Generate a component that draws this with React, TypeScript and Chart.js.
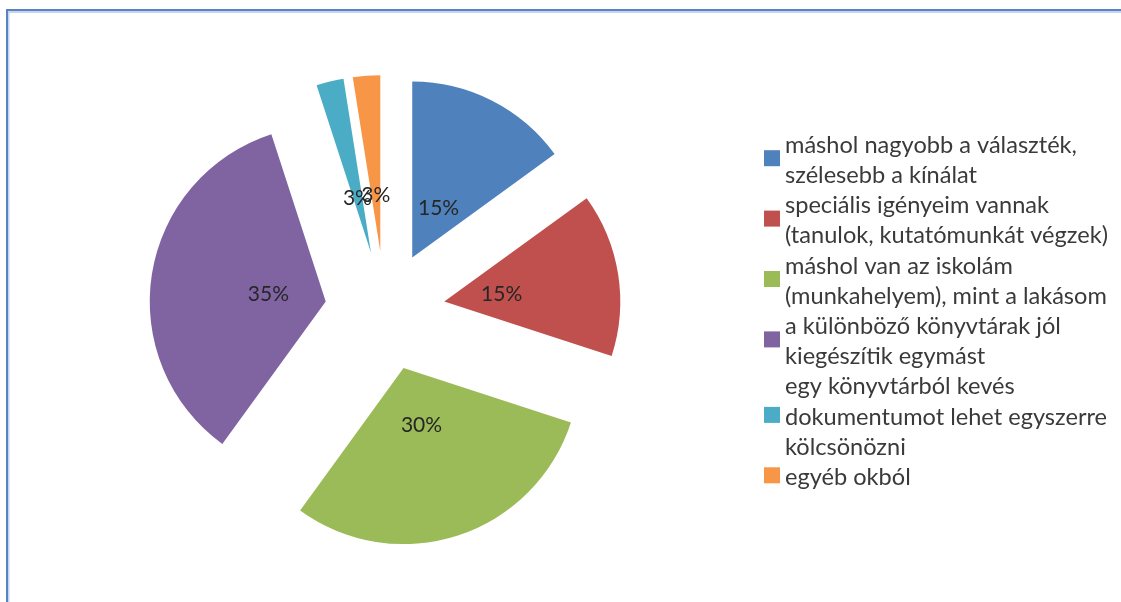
import React, { useEffect, useRef } from "react";
import { Chart, registerables, ArcElement } from "chart.js";

Chart.register(...registerables);

// ---- data ----
const categories: string[][] = [
  ["máshol nagyobb a választék,", "szélesebb a kínálat"],
  ["speciális igényeim vannak", "(tanulok, kutatómunkát végzek)"],
  ["máshol van az iskolám", "(munkahelyem), mint a lakásom"],
  ["a különböző könyvtárak jól", "kiegészítik egymást"],
  ["egy könyvtárból kevés", "dokumentumot lehet egyszerre", "kölcsönözni"],
  ["egyéb okból"],
];
const values: number[] = [6, 6, 12, 14, 1, 1];
const sliceColors: string[] = ["#4F81BD", "#C0504D", "#9BBB59", "#8064A2", "#4BACC6", "#F79646"];

const FONT = "Lato, 'Open Sans', sans-serif";
const EXPLODE = 60; // pixel distance each slice is pulled out

const framePlugin = {
  id: "frame",
  beforeDraw(chart: any) {
    const ctx = chart.ctx as CanvasRenderingContext2D;
    const w = chart.width;
    const h = chart.height;
    ctx.save();
    ctx.fillStyle = "#ffffff";
    ctx.fillRect(0, 0, w, h);
    ctx.fillStyle = "#c3d5ef";
    ctx.fillRect(6, 9, w, 4);
    ctx.fillRect(6, 9, 3.5, h);
    ctx.fillStyle = "#5882c2";
    ctx.fillRect(6, 9, w, 2);
    ctx.fillRect(6, 9, 2, h);
    ctx.restore();
  },
};

// Explode every slice by a plain translation along its mid-angle
// (Chart.js' own offset also enlarges/trims thin slices).
const explodePlugin = {
  id: "explode",
  beforeDatasetsDraw(chart: any) {
    const meta = chart.getDatasetMeta(0);
    meta.data.forEach((arc: any) => {
      if (arc.__exploded) return;
      arc.__exploded = true;
      arc.draw = function (ctx: CanvasRenderingContext2D) {
        const mid = (this.startAngle + this.endAngle) / 2;
        ctx.save();
        ctx.translate(Math.cos(mid) * EXPLODE, Math.sin(mid) * EXPLODE);
        ArcElement.prototype.draw.call(this, ctx);
        ctx.restore();
      };
    });
  },
};

const labelPlugin = {
  id: "sliceLabels",
  afterDatasetsDraw(chart: any) {
    const ctx = chart.ctx as CanvasRenderingContext2D;
    const meta = chart.getDatasetMeta(0);
    const ds = chart.data.datasets[0];
    const data = ds.data as number[];
    const total = data.reduce((a, b) => a + b, 0);
    ctx.save();
    ctx.font = `21px ${FONT}`;
    ctx.fillStyle = "#262626";
    ctx.textAlign = "center";
    ctx.textBaseline = "middle";
    meta.data.forEach((arc: any, i: number) => {
      const { x, y, startAngle, endAngle, outerRadius } = arc;
      const mid = (startAngle + endAngle) / 2;
      const d = EXPLODE + outerRadius * 0.33;
      const tx = x + Math.cos(mid) * d;
      const ty = y + Math.sin(mid) * d + 2;
      ctx.fillText(Math.round((data[i] / total) * 100) + "%", tx, ty);
    });
    ctx.restore();
  },
};

const legendPlugin = {
  id: "sideLegend",
  afterDraw(chart: any) {
    const ctx = chart.ctx as CanvasRenderingContext2D;
    const labels = chart.data.labels as string[][];
    const bg = chart.data.datasets[0].backgroundColor as string[];
    const lineH = 30.2;
    const boxX = 764;
    const textX = 785;
    const boxSize = 16;
    ctx.save();
    ctx.font = `100px ${FONT}`;
    const refW = ctx.measureText("(munkahelyem), mint a lakásom").width;
    const size = (100 * 322) / refW;
    ctx.font = `${size}px ${FONT}`;
    ctx.textBaseline = "middle";
    ctx.textAlign = "left";
    let top = 129;
    labels.forEach((lines, i) => {
      const slot = lines.length * lineH;
      const cy = top + slot / 2;
      ctx.fillStyle = bg[i];
      ctx.fillRect(boxX, cy - boxSize / 2 - 1, boxSize, boxSize);
      ctx.fillStyle = "#3a3a3a";
      lines.forEach((t, j) => {
        const ly = cy + (j - (lines.length - 1) / 2) * lineH + 1;
        ctx.fillText(t, textX, ly);
      });
      top += slot;
    });
    ctx.restore();
  },
};

export default function App() {
  const ref = useRef<HTMLCanvasElement | null>(null);
  useEffect(() => {
    if (!ref.current) return;
    const chart = new Chart(ref.current, {
      type: "pie",
      data: {
        labels: categories,
        datasets: [
          {
            data: values,
            backgroundColor: sliceColors,
            borderWidth: 0,
            offset: 0,
          },
        ],
      },
      options: {
        responsive: false,
        animation: false,
        radius: 176,
        layout: { padding: { left: 20, right: 371, top: 30, bottom: 10 } },
        plugins: {
          legend: { display: false },
          tooltip: { enabled: false },
        },
      } as any,
      plugins: [framePlugin, explodePlugin, labelPlugin, legendPlugin],
    });
    return () => chart.destroy();
  }, []);
  return (
    <div style={{ position: "absolute", left: 0, top: 0, width: 1121, height: 602 }}>
      <canvas ref={ref} width={1121} height={602} />
    </div>
  );
}
